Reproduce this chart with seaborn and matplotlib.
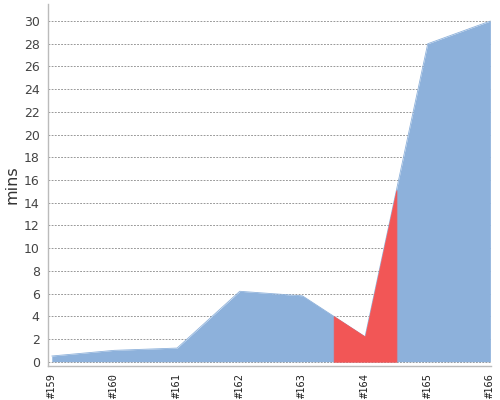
import numpy as np
import pandas as pd
import matplotlib
matplotlib.use("Agg")
import matplotlib.pyplot as plt
import seaborn as sns

# build labels and duration (minutes) per build
builds = ["#159", "#160", "#161", "#162", "#163", "#164", "#165", "#166"]
mins = [0.5, 1.0, 1.2, 6.2, 5.8, 2.2, 28, 30]
# build that is highlighted in red
highlight = "#164"

BLUE = "#8DB1DB"
RED = "#F25656"
GREY = "#BBBBBB"

sns.set_style("white")

df = pd.DataFrame({"build": builds, "mins": mins})
df["pos"] = np.arange(len(df))

fig = plt.figure(figsize=(5, 4), dpi=100)
ax = fig.add_axes([0.096, 0.085, 0.886, 0.905])

# area of all builds
sns.lineplot(data=df, x="pos", y="mins", color=BLUE, linewidth=0.6, ax=ax, zorder=2)
ax.fill_between(df["pos"], df["mins"], color=BLUE, linewidth=0, zorder=2)

# red band centred on the highlighted build
i = builds.index(highlight)
xs = np.array([i - 0.5, i, i + 0.5])
ys = np.interp(xs, df["pos"], df["mins"])
ax.fill_between(xs, ys, color=RED, linewidth=0.6, edgecolor=RED, zorder=3)

ax.set_xlim(-0.06, len(builds) - 1 + 0.01)
ax.set_ylim(-0.38, 31.5)
ax.set_yticks(range(0, 31, 2))
ax.set_xticks(df["pos"])
ax.set_xticklabels(builds, rotation=90, family="DejaVu Sans Mono", fontsize=7.5, color="#222222")
ax.tick_params(axis="y", labelsize=9, labelcolor="#444444", length=3, color=GREY, width=0.8, pad=3)
ax.tick_params(axis="x", length=3, color=GREY, width=0.8, pad=2)
ax.grid(axis="y", color="#888888", linestyle=(0, (2.2, 1.6)), linewidth=0.6)
ax.set_axisbelow(True)

for side in ["top", "right"]:
    ax.spines[side].set_visible(False)
for side in ["left", "bottom"]:
    ax.spines[side].set_color(GREY)
    ax.spines[side].set_linewidth(1)

ax.set_xlabel("")
ax.set_ylabel("mins", fontsize=11.5, color="#333333", labelpad=3)

fig.savefig("out.png", dpi=100)
